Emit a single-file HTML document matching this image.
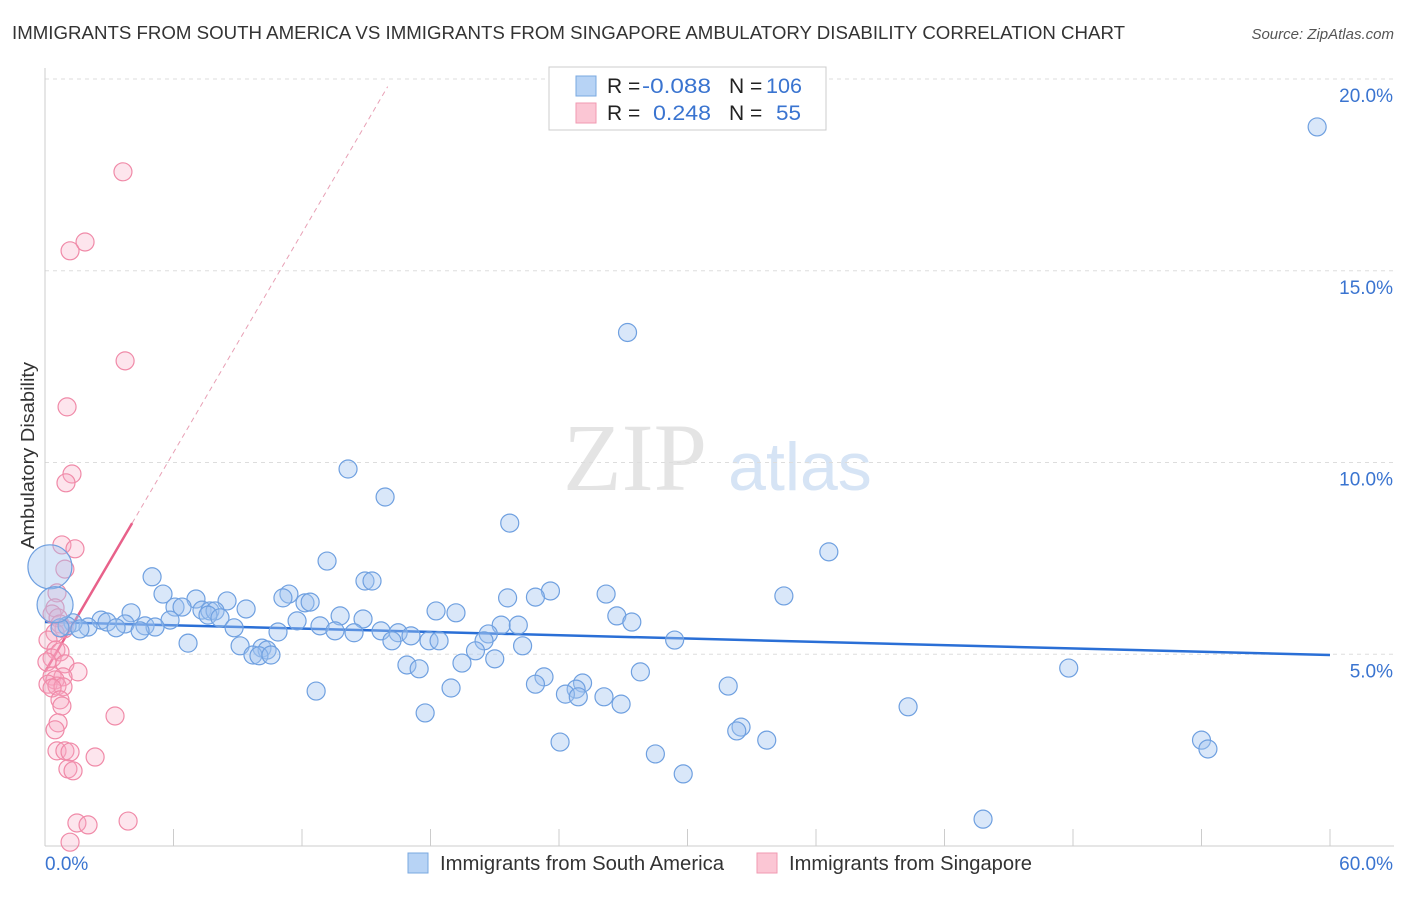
<!DOCTYPE html>
<html><head><meta charset="utf-8"><style>
body{margin:0;background:#fff;font-family:"Liberation Sans",sans-serif}
</style></head><body>
<svg id="chart" width="1406" height="892" xmlns="http://www.w3.org/2000/svg" font-family="Liberation Sans, sans-serif">
<text x="12" y="39" font-size="18.5" fill="#333" textLength="1113" lengthAdjust="spacingAndGlyphs">IMMIGRANTS FROM SOUTH AMERICA VS IMMIGRANTS FROM SINGAPORE AMBULATORY DISABILITY CORRELATION CHART</text>
<text x="1394" y="39" font-size="15" fill="#555" text-anchor="end" font-style="italic">Source: ZipAtlas.com</text>
<text transform="translate(34,549) rotate(-90)" font-size="18" fill="#333" textLength="187" lengthAdjust="spacingAndGlyphs">Ambulatory Disability</text>
<g><text x="635" y="490" font-size="96" fill="#e4e4e4" font-family="Liberation Serif, serif" text-anchor="middle">ZIP</text><text x="800" y="490" font-size="68" fill="#d6e4f5" text-anchor="middle">atlas</text></g>
<g id="grid"></g><g id="axes"></g><g id="trends"></g><g id="points"></g>
<g>
<rect x="549" y="67" width="277" height="63" fill="#fff" stroke="#ccc"/>
<rect x="576" y="76" width="20" height="20" fill="#b7d3f5" stroke="#7aa8e0"/>
<rect x="576" y="103" width="20" height="20" fill="#fbc6d4" stroke="#f09ab2"/>
<text x="607" y="93" font-size="21" fill="#222">R =</text><text x="642" y="93" font-size="21" fill="#3a74d0" textLength="69" lengthAdjust="spacingAndGlyphs">-0.088</text>
<text x="729" y="93" font-size="21" fill="#222">N =</text><text x="766" y="93" font-size="21" fill="#3a74d0" textLength="36" lengthAdjust="spacingAndGlyphs">106</text>
<text x="607" y="120" font-size="21" fill="#222">R =</text><text x="653" y="120" font-size="21" fill="#3a74d0" textLength="58" lengthAdjust="spacingAndGlyphs">0.248</text>
<text x="729" y="120" font-size="21" fill="#222">N =</text><text x="776" y="120" font-size="21" fill="#3a74d0" textLength="25" lengthAdjust="spacingAndGlyphs">55</text>
</g>
<g>
<rect x="408" y="853" width="20" height="20" fill="#b7d3f5" stroke="#7aa8e0"/>
<text x="440" y="870" font-size="20" fill="#333" textLength="284" lengthAdjust="spacingAndGlyphs">Immigrants from South America</text>
<rect x="757" y="853" width="20" height="20" fill="#fbc6d4" stroke="#f09ab2"/>
<text x="789" y="870" font-size="20" fill="#333" textLength="243" lengthAdjust="spacingAndGlyphs">Immigrants from Singapore</text>
</g>
</svg>
<script>
const blueX=[59.4,27.2,14.15,15.88,21.7,36.6,13.17,5.0,14.94,15.27,23.6,5.51,11.39,11.11,7.05,21.6,22.9,26.2,34.5,8.5,12.14,12.38,6.07,6.4,9.39,7.33,7.7,7.94,4.02,18.26,19.19,26.7,13.78,14.85,7.61,8.17,11.77,27.4,5.84,2.62,2.9,3.74,4.67,5.14,3.32,4.44,2.01,1.31,1.03,0.7,1.63,8.83,12.84,13.54,21.3,22.1,10.88,14.43,15.69,16.49,20.7,17.09,16.2,17.93,18.4,20.5,6.68,29.4,9.11,22.3,10.13,10.37,9.71,9.99,10.55,20.1,21.0,19.47,16.9,17.47,27.8,47.8,23.3,22.9,25.1,24.8,18.96,12.66,31.9,24.3,26.1,24.9,26.9,40.3,17.75,32.5,32.3,33.7,24.05,54.0,54.3,28.5,29.8,43.8,0.23,0.47];
const blueY=[18.75,13.39,9.83,9.10,8.42,7.67,7.43,7.02,6.91,6.91,6.65,6.57,6.57,6.47,6.44,6.47,6.49,6.57,6.52,6.39,6.34,6.36,6.23,6.23,6.18,6.15,6.13,6.13,6.08,6.13,6.08,6.0,6.0,5.92,6.02,5.95,5.87,5.84,5.89,5.89,5.84,5.79,5.74,5.71,5.69,5.61,5.71,5.82,5.74,5.69,5.66,5.69,5.74,5.61,5.76,5.76,5.58,5.56,5.61,5.56,5.53,5.48,5.35,5.35,5.35,5.35,5.29,5.37,5.22,5.22,5.16,5.11,4.98,4.96,4.98,5.09,4.88,4.77,4.72,4.62,4.54,4.64,4.41,4.22,4.25,4.09,4.12,4.04,4.17,3.96,3.89,3.89,3.7,3.63,3.47,3.1,3.0,2.76,2.71,2.76,2.53,2.4,1.88,0.7,7.28,6.29];
const blueR=[];for(let i=0;i<blueX.length;i++)blueR.push(i===blueX.length-2?22:(i===blueX.length-1?18:9));
const pinkX=[3.64,1.87,1.17,3.74,1.03,1.26,0.98,0.79,1.4,0.93,0.56,0.47,0.33,0.61,0.7,0.89,0.47,0.14,0.51,0.7,0.33,0.09,0.93,1.54,0.33,0.84,0.47,0.14,0.56,0.84,0.33,0.7,0.79,0.61,0.47,3.27,0.56,0.93,1.17,2.34,1.07,1.31,1.49,2.01,3.88,1.17];
const pinkY=[17.58,15.75,15.52,12.65,11.45,9.7,9.47,7.85,7.75,7.22,6.6,6.21,6.05,5.95,5.79,5.66,5.56,5.37,5.11,5.06,4.9,4.8,4.75,4.54,4.43,4.41,4.33,4.22,4.17,4.15,4.12,3.81,3.65,3.21,3.03,3.39,2.48,2.48,2.45,2.32,2.01,1.96,0.6,0.55,0.65,0.1];
const xTicks=[0,6,12,18,24,30,36,42,48,54,60];
const yTicks=[5,10,15,20];
const yTickLabels=["5.0%","10.0%","15.0%","20.0%"];
const blueTrend=[[0,5.84],[60,4.98]];
const pinkTrendSolid=[[0,4.54],[4.07,8.42]];
const pinkTrendDash=[[4.07,8.42],[16,19.8]];
const NS="http://www.w3.org/2000/svg";
const sx=v=>45+v*(1285/60), sy=v=>846-v*38.35;
function mk(parent,tag,attrs){const e=document.createElementNS(NS,tag);for(const k in attrs)e.setAttribute(k,attrs[k]);document.getElementById(parent).appendChild(e);return e;}
yTicks.forEach((t,i)=>{
 const g=mk('grid','line',{x1:45,x2:1394,y1:sy(t),y2:sy(t),stroke:'#ddd','stroke-dasharray':'4,4'});
 
 
 const l=mk('axes','text',{x:1393,y:sy(t)+23,'font-size':19,fill:'#3a74d0','text-anchor':'end'});l.textContent=yTickLabels[i];
 
 
});
const ax=mk('axes','line',{x1:45,x2:1394,y1:846,y2:846,stroke:'#ccc'});


const ay=mk('axes','line',{x1:45,x2:45,y1:68,y2:846,stroke:'#ccc'});


xTicks.forEach(t=>{const k=mk('axes','line',{x1:sx(t),x2:sx(t),y1:829,y2:846,stroke:'#ccc'});
 
 });
const xl0=mk('axes','text',{x:45,y:870,'font-size':19,fill:'#3a74d0'});xl0.textContent=xTicks[0].toFixed(1)+'%';


const xl1=mk('axes','text',{x:1393,y:870,'font-size':19,fill:'#3a74d0','text-anchor':'end'});xl1.textContent=xTicks[xTicks.length-1].toFixed(1)+'%';


pinkX.forEach((x,i)=>{const c=mk('points','circle',{cx:sx(x),cy:sy(pinkY[i]),r:9,fill:'rgba(248,170,195,0.3)',stroke:'#f08aa8','stroke-width':1.2});
 
 });
blueX.forEach((x,i)=>{const c=mk('points','circle',{cx:sx(x),cy:sy(blueY[i]),r:blueR[i],fill:'rgba(160,196,240,0.4)',stroke:'#6fa0e0','stroke-width':1.2});
 
 });
const bt=mk('trends','line',{x1:sx(blueTrend[0][0]),y1:sy(blueTrend[0][1]),x2:sx(blueTrend[1][0]),y2:sy(blueTrend[1][1]),stroke:'#2a6fd6','stroke-width':2.5});


const pt=mk('trends','line',{x1:sx(pinkTrendSolid[0][0]),y1:sy(pinkTrendSolid[0][1]),x2:sx(pinkTrendSolid[1][0]),y2:sy(pinkTrendSolid[1][1]),stroke:'#e8618a','stroke-width':2.5});


const pd=mk('trends','line',{x1:sx(pinkTrendDash[0][0]),y1:sy(pinkTrendDash[0][1]),x2:sx(pinkTrendDash[1][0]),y2:sy(pinkTrendDash[1][1]),stroke:'#e8a0b5','stroke-width':1,'stroke-dasharray':'5,4'});


</script>
</body></html>
